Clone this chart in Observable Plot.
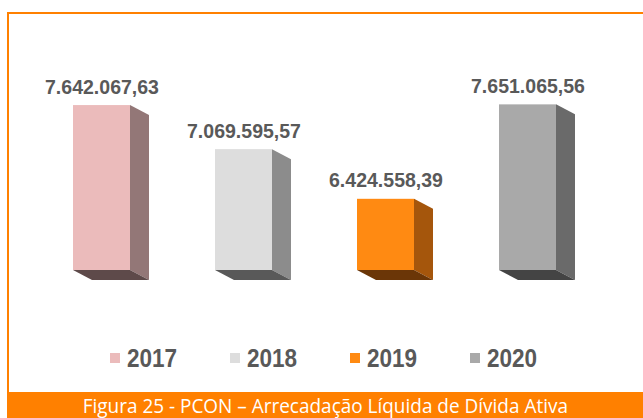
<!DOCTYPE html>
<html><head><meta charset="utf-8">
<script src="https://cdn.jsdelivr.net/npm/d3@7"></script>
<script src="https://cdn.jsdelivr.net/npm/@observablehq/plot@0.6"></script>
<style>
html,body{margin:0;padding:0;background:#fff;width:643px;height:418px;overflow:hidden;position:relative}
#frame{position:absolute;left:7px;top:12px;width:700px;height:392px;border:2px solid #FF8000;border-right:none;box-sizing:border-box}
#chart{position:absolute;left:0;top:0}
#legend{position:absolute;top:344px;left:0;width:643px;height:28px;font-family:"Liberation Sans",Arial,sans-serif;font-weight:bold;font-size:25px;color:#595959}
.item{position:absolute;top:0;display:flex;align-items:center;height:28px;white-space:nowrap}
.sw{width:10px;height:10px;margin-right:7px;flex:none}
.lt{display:inline-block;transform:scaleX(0.9);transform-origin:left center}
#caption{position:absolute;left:7px;top:392px;width:636px;height:26px;background:#FF8000;color:#fff;font-family:"Open Sans",sans-serif;font-size:20.5px;line-height:27px;text-align:center;white-space:nowrap;overflow:hidden}
#caption span{display:inline-block;transform:scaleX(0.925);transform-origin:center center}
</style></head><body>
<div id="frame"></div>
<div id="chart"></div>
<div id="legend"></div>
<div id="caption"><span>Figura 25 - PCON – Arrecadação Líquida de Dívida Ativa</span></div>
<script>
const years = ["2017", "2018", "2019", "2020"];
const values = [7642067.63, 7069595.57, 6424558.39, 7651065.56];
const frontColors = ["#EBBBBB", "#DDDDDD", "#FF8A12", "#A9A9A9"];
const sideColors = ["#937777", "#8C8C8C", "#A5560C", "#6A6A6A"];
const baseColors = ["#5E4A4A", "#595959", "#6B3607", "#444444"];
const yDomain = [5500000, 8000000];

const fmt = d3.formatLocale({decimal: ",", thousands: ".", grouping: [3], currency: ["", ""]}).format(",.2f");
const data = years.map((year, i) => ({year, value: values[i], label: fmt(values[i]), front: frontColors[i], side: sideColors[i], base: baseColors[i]}));

const depthX = 19, depthY = 10;

function faces(index, scales) {
  const x = scales.x, y = scales.y;
  const bw = x.bandwidth();
  const g = d3.create("svg:g");
  for (const d of data) {
    const xl = x(d.year), xr = xl + bw;
    const yt = y(d.value), yb = y(yDomain[0]);
    g.append("polygon")
      .attr("points", [[xr, yt], [xr + depthX, yt + depthY], [xr + depthX, yb + depthY], [xr, yb]].join(" "))
      .attr("fill", d.side);
    g.append("polygon")
      .attr("points", [[xl, yb], [xr, yb], [xr + depthX, yb + depthY], [xl + depthX, yb + depthY]].join(" "))
      .attr("fill", d.base);
  }
  return g.node();
}

const chart = Plot.plot({
  width: 643,
  height: 300,
  marginLeft: 29.3,
  marginRight: 44.4,
  marginTop: 77.5,
  marginBottom: 30,
  style: {background: "transparent", overflow: "visible"},
  x: {domain: years, paddingInner: 0.6, paddingOuter: 0.3, axis: null},
  y: {domain: yDomain, axis: null},
  color: {type: "identity"},
  marks: [
    faces,
    Plot.barY(data, {x: "year", y1: yDomain[0], y2: "value", fill: "front"}),
    Plot.text(data, {
      x: "year", y: "value", text: "label", dy: -12, lineAnchor: "bottom",
      fontFamily: "'Liberation Sans', Arial, sans-serif",
      fontWeight: "bold", fontSize: 21, fill: "#595959"
    })
  ]
});
// slightly condense the value labels horizontally, around their anchor
chart.querySelectorAll("text").forEach(t => {
  const tr = t.getAttribute("transform") || "";
  const x = +t.getAttribute("x") || 0, y = +t.getAttribute("y") || 0;
  t.removeAttribute("x"); t.removeAttribute("y");
  t.setAttribute("transform", `${tr} translate(${x},${y}) scale(0.93,1)`);
});
document.getElementById("chart").append(chart);

const legend = document.getElementById("legend");
const legendStart = 110, legendStep = 120;
years.forEach((yr, i) => {
  const item = document.createElement("div");
  item.className = "item";
  item.style.left = (legendStart + i * legendStep) + "px";
  const sw = document.createElement("span");
  sw.className = "sw";
  sw.style.background = frontColors[i];
  const t = document.createElement("span");
  t.className = "lt";
  t.textContent = yr;
  item.append(sw, t);
  legend.append(item);
});
</script>
</body></html>
